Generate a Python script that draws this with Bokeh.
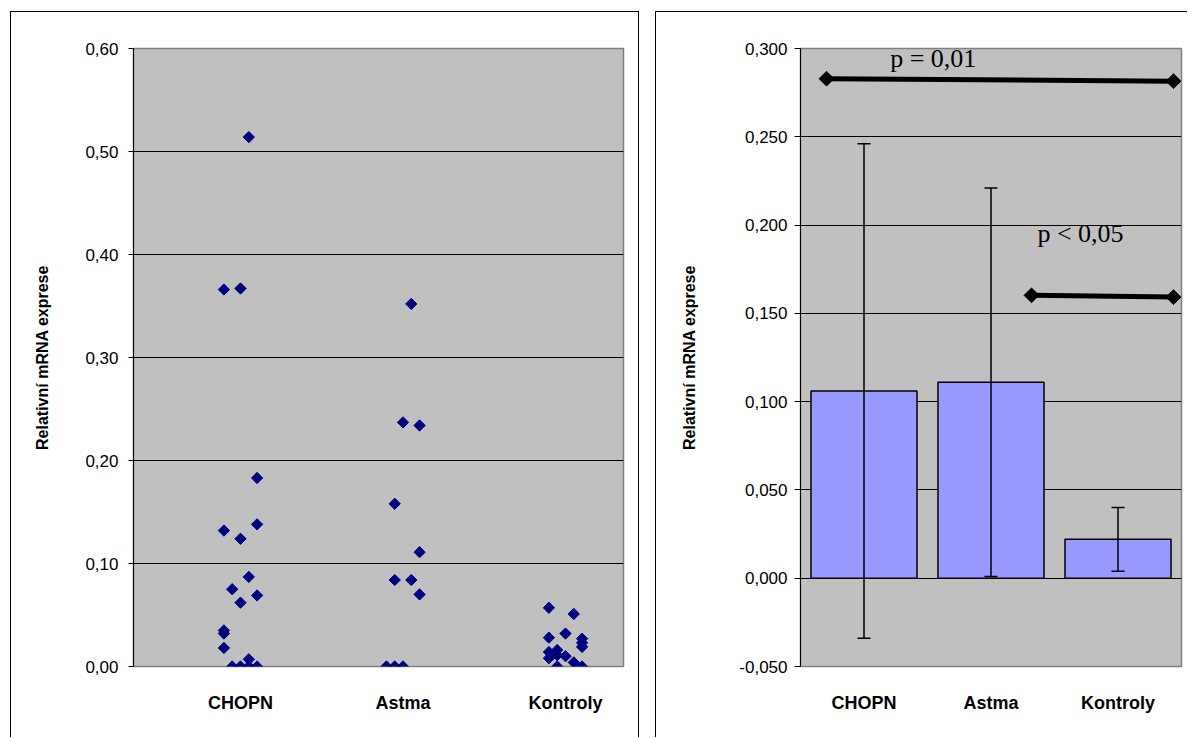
import math
from bokeh.plotting import figure
from bokeh.layouts import row
from bokeh.models import FixedTicker, Range1d, Label
from bokeh.embed import file_html
from bokeh.resources import INLINE

# ---------------- data ----------------
groups = ["CHOPN", "Astma", "Kontroly"]
group_pos = [1, 2, 3]

# scatter panel: jitter slot (-2..2) and value for each individual
chopn_slot = [1, -2, 0, 2, -2, 2, 0, 1, -1, 2, 0, -2, -2, -2, 1, -1, 0, 1, 2]
chopn_val = [0.514, 0.366, 0.367, 0.183, 0.132, 0.138, 0.124, 0.087, 0.075, 0.069,
             0.062, 0.035, 0.032, 0.018, 0.007, 0.0, 0.0, 0.0, 0.0]
astma_slot = [1, 0, 2, -1, 2, -1, 1, 2, -2, -1, 0]
astma_val = [0.352, 0.237, 0.234, 0.158, 0.111, 0.084, 0.084, 0.070, 0.0, 0.0, 0.0]
kontroly_slot = [-2, 1, -2, 0, 2, 2, 2, -2, -1, -2, -1, 0, 1, -1, 2]
kontroly_val = [0.057, 0.051, 0.028, 0.032, 0.027, 0.023, 0.019, 0.014, 0.016, 0.008,
                0.011, 0.010, 0.004, 0.0, 0.0]

scatter_ticks = [0.0, 0.1, 0.2, 0.3, 0.4, 0.5, 0.6]
scatter_tick_labels = ["0,00", "0,10", "0,20", "0,30", "0,40", "0,50", "0,60"]

# bar panel
bar_means = [0.106, 0.111, 0.022]
bar_sd = [0.140, 0.110, 0.018]
bar_ticks = [-0.05, 0.0, 0.05, 0.1, 0.15, 0.2, 0.25, 0.3]
bar_tick_labels = ["-0,050", "0,000", "0,050", "0,100", "0,150", "0,200", "0,250", "0,300"]

sig_labels = ["p = 0,01", "p < 0,05"]
sig_x0 = [0.205, 1.819]
sig_x1 = [2.937, 2.937]
sig_y0 = [0.2829, 0.1602]
sig_y1 = [0.2815, 0.1592]
sig_text_x = [1.045, 2.205]
sig_text_y = [0.2942, 0.1950]

axis_title = "Relativní mRNA exprese"

SANS = "Liberation Sans"
SERIF = "Liberation Serif"
JITTER = 0.051


def style_common(p):
    p.background_fill_color = "#C0C0C0"
    p.border_fill_color = "white"
    p.outline_line_color = "#808080"
    p.outline_line_width = 1.5
    p.xgrid.grid_line_color = None
    p.ygrid.grid_line_color = "black"
    p.ygrid.grid_line_width = 1
    p.yaxis.axis_line_color = "black"
    p.yaxis.major_tick_line_color = "black"
    p.yaxis.major_tick_in = 0
    p.yaxis.minor_tick_line_color = None
    p.yaxis.major_label_text_font = SANS
    p.yaxis.major_label_text_font_size = "17px"
    p.yaxis.major_label_text_color = "black"
    p.yaxis.axis_label = axis_title
    p.yaxis.axis_label_text_font = SANS
    p.yaxis.axis_label_text_font_style = "bold"
    p.yaxis.axis_label_text_font_size = "16px"
    p.yaxis.axis_label_text_color = "black"
    p.xaxis.axis_line_color = None
    p.xaxis.major_tick_line_color = None
    p.xaxis.minor_tick_line_color = None
    p.xaxis.major_label_text_font = SANS
    p.xaxis.major_label_text_font_style = "bold"
    p.xaxis.major_label_text_font_size = "18px"
    p.xaxis.major_label_text_color = "black"
    p.xaxis.major_label_standoff = 20


# ---------------- left: scatter ----------------
p1 = figure(width=629, height=726, output_backend="svg", toolbar_location=None,
            x_range=Range1d(0.3415, 3.357), y_range=Range1d(0, 0.6),
            min_border_left=122, min_border_right=17, min_border_top=36,
            min_border_bottom=72, margin=(11, 0, 0, 10))
p1.styles = {"border-top": "1px solid black", "border-left": "1px solid black",
             "border-right": "1px solid black"}
style_common(p1)
p1.yaxis.ticker = FixedTicker(ticks=scatter_ticks)
p1.ygrid.ticker = FixedTicker(ticks=scatter_ticks)
p1.yaxis.major_label_overrides = dict(zip(scatter_ticks, scatter_tick_labels))
p1.yaxis.major_tick_out = 5
p1.yaxis.major_label_standoff = 10
p1.yaxis.axis_label_standoff = 31
p1.xaxis.ticker = FixedTicker(ticks=group_pos)
p1.xaxis.major_label_overrides = dict(zip(group_pos, groups))

xs, ys = [], []
for gp, slots, vals in [(1, chopn_slot, chopn_val), (2, astma_slot, astma_val),
                        (3, kontroly_slot, kontroly_val)]:
    for s, v in zip(slots, vals):
        xs.append(gp + s * JITTER)
        ys.append(v)
p1.scatter(xs, ys, marker="square", angle=math.pi / 4, size=8,
           fill_color="#000080", line_color="#000080")

# ---------------- right: bars ----------------
p2 = figure(width=532, height=726, output_backend="svg", toolbar_location=None,
            x_range=Range1d(0, 3), y_range=Range1d(-0.05, 0.3),
            min_border_left=144, min_border_right=7, min_border_top=36,
            min_border_bottom=72, margin=(11, 0, 0, 16))
p2.styles = {"border-top": "1px solid black", "border-left": "1px solid black"}
style_common(p2)
p2.yaxis.ticker = FixedTicker(ticks=bar_ticks)
p2.ygrid.ticker = FixedTicker(ticks=bar_ticks)
p2.yaxis.major_label_overrides = dict(zip(bar_ticks, bar_tick_labels))
p2.yaxis.major_tick_out = 6
p2.yaxis.major_label_standoff = 7
p2.yaxis.axis_label_standoff = 38

bar_x = [i + 0.5 for i in range(len(groups))]
p2.xaxis.ticker = FixedTicker(ticks=bar_x)
p2.xaxis.major_label_overrides = dict(zip(bar_x, groups))

p2.vbar(x=bar_x, top=bar_means, bottom=0, width=0.835,
        fill_color="#9999FF", line_color="black", line_width=1.5)
upper = [m + s for m, s in zip(bar_means, bar_sd)]
lower = [m - s for m, s in zip(bar_means, bar_sd)]
p2.segment(x0=bar_x, y0=lower, x1=bar_x, y1=upper, line_color="black", line_width=1.5)
p2.scatter(bar_x + bar_x, upper + lower, marker="dash", size=13,
           line_color="black", line_width=1.5)

p2.segment(x0=sig_x0, y0=sig_y0, x1=sig_x1, y1=sig_y1, line_color="black", line_width=5)
p2.scatter(sig_x0 + sig_x1, sig_y0 + sig_y1, marker="square", angle=math.pi / 4,
           size=10.5, fill_color="black", line_color="black")

for tx, ty, txt in zip(sig_text_x, sig_text_y, sig_labels):
    p2.add_layout(Label(x=tx, y=ty, text=txt, text_font=SERIF, text_font_size="26px",
                        text_align="center", text_baseline="alphabetic",
                        text_color="black", level="overlay"))

layout = row(p1, p2)
open("out.html", "w").write(file_html(layout, INLINE))
